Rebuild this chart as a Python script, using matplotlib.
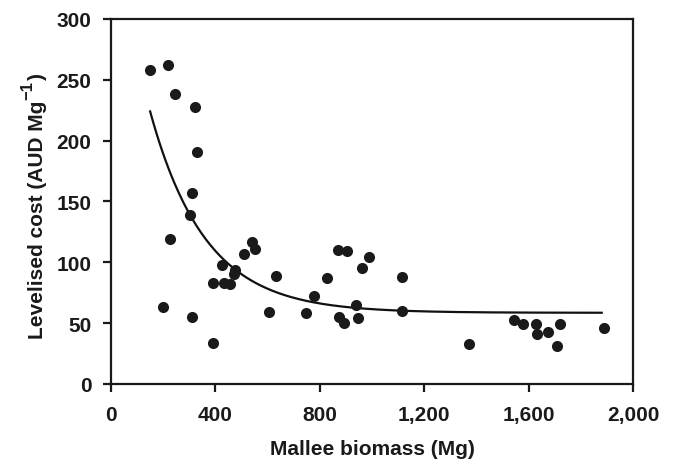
import numpy as np
import matplotlib
matplotlib.use("Agg")
import matplotlib.pyplot as plt

# Data
biomass = [150, 218, 245, 322, 329, 310, 303, 226, 541, 550, 508, 425, 476, 470,
           390, 434, 457, 633, 869, 906, 988, 960, 828, 1115, 777, 937, 201, 604,
           746, 1115, 873, 894, 947, 311, 390, 1372, 1545, 1578, 1629, 1633, 1675,
           1721, 1709, 1890]
cost = [258, 262, 238, 228, 191, 157, 139, 119, 117, 111, 107, 98, 94, 90,
        83, 83, 82, 89, 110, 109, 104, 95, 87, 88, 72, 65, 63, 59,
        58.5, 60, 55, 50, 54, 55, 34, 33, 53, 49, 49, 41, 43,
        49.5, 31, 46]

# Fitted trend (exponential decay) parameters
fit_asym = 58.5
fit_amp = 336.0
fit_rate = 0.00472
fit_xmin, fit_xmax = 150, 1880

xticks = [0, 400, 800, 1200, 1600, 2000]
xticklabels = ["0", "400", "800", "1,200", "1,600", "2,000"]
yticks = [0, 50, 100, 150, 200, 250, 300]

plt.rcParams['font.family'] = ['Liberation Sans', 'DejaVu Sans']

W, H = 675, 464
fig = plt.figure(figsize=(W / 100, H / 100), dpi=100)
ax = fig.add_axes([0.1644, 0.1703, 0.7734, 0.7866])

xf = np.linspace(fit_xmin, fit_xmax, 300)
yf = fit_asym + fit_amp * np.exp(-fit_rate * xf)
ax.plot(xf, yf, color='#111111', lw=1.6, zorder=2)
ax.plot(biomass, cost, 'o', color='#1a1a1a', markersize=8, zorder=3,
        markeredgewidth=0)

ax.set_xlim(0, 2000)
ax.set_ylim(0, 300)
ax.set_xticks(xticks)
ax.set_xticklabels(xticklabels)
ax.set_yticks(yticks)

for s in ax.spines.values():
    s.set_linewidth(1.6)
    s.set_color('#1a1a1a')

ax.tick_params(axis='both', direction='out', length=6, width=1.6, color='#1a1a1a',
               labelsize=15)
ax.tick_params(axis='y', pad=8)
ax.tick_params(axis='x', pad=9)
for lab in ax.get_xticklabels() + ax.get_yticklabels():
    lab.set_fontweight('bold')
    lab.set_color('#1a1a1a')

ax.set_xlabel('Mallee biomass (Mg)', fontsize=15, fontweight='bold',
              color='#1a1a1a', labelpad=11)

# Y label built from pieces so the superscript can be large
ylab_main = 'Levelised cost (AUD Mg'
ylab_sup = '\u22121'
ylab_end = ')'
x_base = 43 / W
y_start = (H - 339) / H
kw = dict(rotation=90, rotation_mode='anchor', ha='left', va='baseline',
          fontweight='bold', color='#1a1a1a')
t1 = fig.text(x_base, y_start, ylab_main, fontsize=15, **kw)
fig.canvas.draw()
r = fig.canvas.get_renderer()
h1 = t1.get_window_extent(r).height / H
t2 = fig.text(x_base - 11 / W, y_start + h1 + 1 / H, ylab_sup, fontsize=12, **kw)
h2 = t2.get_window_extent(r).height / H
t3 = fig.text(x_base, y_start + h1 + h2 + 2 / H, ylab_end, fontsize=15, **kw)

fig.savefig('out.png', dpi=100)
